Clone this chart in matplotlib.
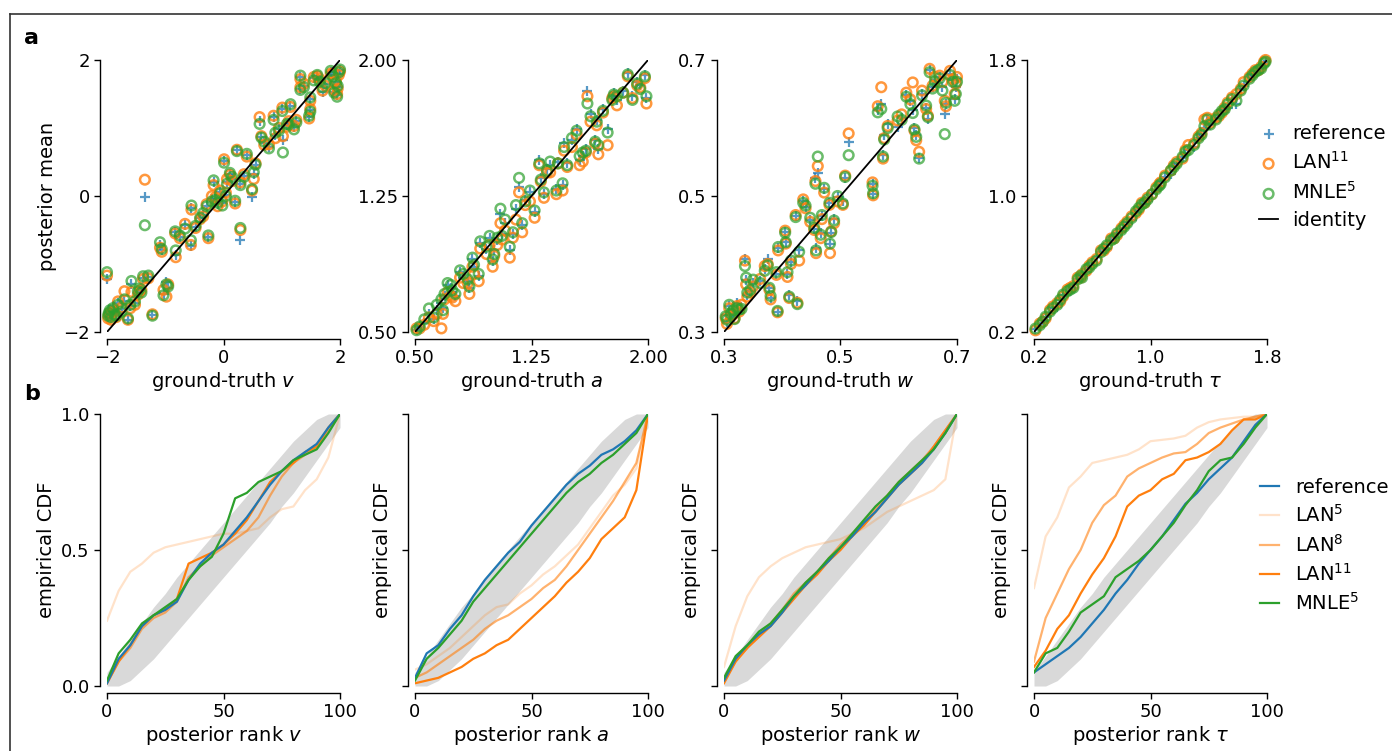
import matplotlib
matplotlib.use('Agg')
import matplotlib.pyplot as plt
from matplotlib.lines import Line2D

# ---------- posterior means vs ground truth (panel a) ----------
v_truth = [-2.00, -1.98, -1.95, -1.90, -1.81, -1.75, -1.70, -1.64, -1.58, -1.52, -1.41, -1.38, -1.35,
           -1.29, -1.22, -1.09, -1.06, -1.03, -0.98, -0.95, -0.83, -0.82, -0.66, -0.56, -0.55, -0.40,
           -0.29, -0.26, -0.20, -0.17, -0.14, -0.06, -0.02, 0.01, 0.06, 0.11, 0.20, 0.23, 0.29, 0.29,
           0.40, 0.49, 0.52, 0.62, 0.65, 0.70, 0.86, 0.89, 1.01, 1.02, 1.09, 1.15, 1.21, 1.32, 1.32,
           1.47, 1.49, 1.49, 1.61, 1.70, 1.84, 1.90, 1.93, 1.95, 1.98,
           -1.97, -1.93, -1.87, -1.84, -1.60, -1.47, -1.44, -0.75, -0.48, -0.35, -0.10, 0.04, 0.15,
           0.35, 0.55, 0.78, 0.95, 1.12, 1.25, 1.38, 1.55, 1.65, 1.75, 1.88, 1.96, 2.00]
v_ref = [-1.22, -1.78, -1.70, -1.62, -1.58, -1.66, -1.55, -1.83, -1.30, -1.58, -1.35, -1.20, -0.01,
         -1.19, -1.75, -0.72, -0.80, -1.44, -1.26, -1.35, -0.53, -0.87, -0.43, -0.73, -0.18, -0.33,
         -0.14, -0.60, -0.05, 0.21, -0.04, 0.06, -0.10, 0.51, 0.20, 0.33, -0.09, 0.67, -0.64, 0.18,
         0.60, -0.01, 0.33, 1.10, 0.87, 0.78, 1.16, 0.89, 1.28, 0.82, 1.04, 1.33, 1.01, 1.75, 1.58,
         1.16, 1.26, 1.43, 1.77, 1.53, 1.82, 1.53, 1.68, 1.48, 1.80,
         -1.74, -1.80, -1.72, -1.77, -1.62, -1.42, -1.38, -0.60, -0.45, -0.28, -0.12, 0.02, 0.25,
         0.30, 0.45, 0.72, 0.98, 1.08, 1.10, 1.62, 1.73, 1.70, 1.65, 1.78, 1.60, 1.85]
v_lan = [-1.17, -1.80, -1.72, -1.70, -1.55, -1.64, -1.40, -1.82, -1.41, -1.60, -1.38, -1.22, 0.24,
         -1.21, -1.74, -0.76, -0.82, -1.38, -1.48, -1.30, -0.55, -0.90, -0.41, -0.72, -0.20, -0.34,
         -0.12, -0.62, 0.00, 0.16, -0.02, 0.08, -0.08, 0.54, 0.25, 0.31, -0.11, 0.68, -0.50, 0.20,
         0.58, 0.08, 0.25, 1.16, 0.88, 0.75, 1.18, 0.85, 1.30, 0.88, 1.02, 1.31, 1.03, 1.72, 1.60,
         1.14, 1.28, 1.40, 1.76, 1.55, 1.80, 1.55, 1.70, 1.50, 1.78,
         -1.75, -1.82, -1.70, -1.78, -1.65, -1.45, -1.40, -0.62, -0.47, -0.30, -0.15, 0.05, 0.22,
         0.32, 0.48, 0.76, 1.00, 1.10, 1.12, 1.65, 1.75, 1.72, 1.62, 1.80, 1.58, 1.83]
v_mnle = [-1.12, -1.76, -1.68, -1.65, -1.60, -1.70, -1.52, -1.80, -1.25, -1.55, -1.42, -1.18, -0.43,
          -1.17, -1.76, -0.68, -0.78, -1.46, -1.30, -1.33, -0.52, -0.80, -0.48, -0.65, -0.14, -0.32,
          -0.15, -0.58, -0.08, 0.23, -0.06, 0.04, -0.14, 0.49, 0.18, 0.34, -0.07, 0.66, -0.47, 0.16,
          0.62, 0.10, 0.35, 1.06, 0.86, 0.80, 1.12, 0.93, 1.25, 0.64, 1.06, 1.35, 0.98, 1.77, 1.56,
          1.18, 1.24, 1.45, 1.78, 1.60, 1.84, 1.52, 1.66, 1.46, 1.82,
          -1.72, -1.78, -1.75, -1.76, -1.60, -1.40, -1.36, -0.58, -0.44, -0.25, -0.10, 0.00, 0.28,
          0.28, 0.46, 0.70, 0.96, 1.05, 1.08, 1.60, 1.70, 1.68, 1.66, 1.76, 1.62, 1.86]

a_truth = [0.53, 0.59, 0.62, 0.67, 0.68, 0.69, 0.71, 0.74, 0.76, 0.79, 0.84, 0.85, 0.88, 0.91, 0.92,
           0.96, 1.00, 1.01, 1.03, 1.05, 1.06, 1.11, 1.13, 1.17, 1.19, 1.21, 1.27, 1.30, 1.31, 1.33,
           1.35, 1.41, 1.42, 1.45, 1.46, 1.48, 1.54, 1.56, 1.58, 1.60, 1.61, 1.66, 1.67, 1.68, 1.71,
           1.74, 1.77, 1.80, 1.84, 1.87, 1.90, 1.95, 1.98, 1.99,
           0.51, 0.56, 0.64, 0.73, 0.81, 0.87, 0.98, 1.08, 1.15, 1.24, 1.37, 1.51, 1.63, 1.78, 1.93]
a_ref = [0.53, 0.60, 0.57, 0.66, 0.63, 0.70, 0.76, 0.72, 0.70, 0.83, 0.78, 0.74, 0.86, 0.81, 0.99,
         0.96, 0.89, 0.95, 1.01, 1.15, 1.04, 0.95, 1.04, 1.30, 1.09, 1.23, 1.16, 1.45, 1.35, 1.26,
         1.40, 1.29, 1.44, 1.31, 1.54, 1.43, 1.62, 1.45, 1.47, 1.51, 1.83, 1.56, 1.67, 1.51, 1.73,
         1.62, 1.80, 1.78, 1.83, 1.93, 1.80, 1.86, 1.92, 1.79,
         0.51, 0.55, 0.62, 0.74, 0.80, 0.90, 1.02, 1.10, 1.18, 1.27, 1.42, 1.56, 1.70, 1.82, 1.88]
a_lan = [0.52, 0.58, 0.56, 0.52, 0.60, 0.68, 0.72, 0.69, 0.67, 0.80, 0.77, 0.71, 0.82, 0.78, 0.96,
         0.93, 0.86, 0.92, 0.98, 1.10, 1.01, 0.91, 1.02, 1.27, 1.05, 1.20, 1.13, 1.42, 1.33, 1.24,
         1.38, 1.26, 1.43, 1.28, 1.50, 1.41, 1.59, 1.42, 1.44, 1.49, 1.80, 1.54, 1.64, 1.48, 1.71,
         1.53, 1.79, 1.75, 1.82, 1.91, 1.79, 1.85, 1.90, 1.76,
         0.52, 0.54, 0.60, 0.70, 0.77, 0.86, 0.98, 1.06, 1.12, 1.22, 1.38, 1.52, 1.66, 1.80, 1.86]
a_mnle = [0.53, 0.63, 0.58, 0.68, 0.62, 0.71, 0.77, 0.73, 0.71, 0.84, 0.79, 0.75, 0.87, 0.82, 1.00,
          0.97, 0.90, 0.93, 1.02, 1.18, 1.03, 0.97, 1.05, 1.35, 1.10, 1.22, 1.17, 1.43, 1.34, 1.27,
          1.39, 1.28, 1.43, 1.32, 1.52, 1.42, 1.61, 1.47, 1.49, 1.50, 1.76, 1.55, 1.66, 1.53, 1.72,
          1.60, 1.78, 1.80, 1.82, 1.92, 1.78, 1.84, 1.91, 1.80,
          0.51, 0.57, 0.65, 0.76, 0.82, 0.91, 1.03, 1.12, 1.20, 1.28, 1.44, 1.57, 1.69, 1.81, 1.87]

w_truth = [0.303, 0.309, 0.316, 0.322, 0.330, 0.336, 0.338, 0.340, 0.350, 0.370, 0.375, 0.378, 0.380,
           0.390, 0.392, 0.393, 0.405, 0.406, 0.409, 0.412, 0.415, 0.423, 0.426, 0.429, 0.436, 0.440,
           0.455, 0.457, 0.458, 0.461, 0.466, 0.472, 0.481, 0.482, 0.484, 0.489, 0.504, 0.508, 0.514,
           0.555, 0.556, 0.564, 0.570, 0.573, 0.575, 0.581, 0.598, 0.613, 0.620, 0.624, 0.627, 0.630,
           0.635, 0.647, 0.650, 0.653, 0.658, 0.670, 0.679, 0.681, 0.693, 0.696, 0.698,
           0.305, 0.312, 0.318, 0.326, 0.345, 0.362, 0.448, 0.468, 0.495, 0.605, 0.640, 0.662, 0.675,
           0.688, 0.700]
w_ref = [0.325, 0.338, 0.330, 0.342, 0.335, 0.408, 0.377, 0.355, 0.372, 0.392, 0.408, 0.364, 0.350,
         0.386, 0.330, 0.423, 0.447, 0.433, 0.386, 0.354, 0.403, 0.470, 0.346, 0.420, 0.492, 0.484,
         0.452, 0.526, 0.423, 0.534, 0.446, 0.511, 0.489, 0.430, 0.445, 0.466, 0.493, 0.526, 0.580,
         0.518, 0.503, 0.626, 0.636, 0.560, 0.589, 0.606, 0.602, 0.648, 0.640, 0.626, 0.600, 0.590,
         0.556, 0.630, 0.613, 0.685, 0.660, 0.675, 0.621, 0.635, 0.670, 0.643, 0.660,
         0.315, 0.325, 0.322, 0.328, 0.360, 0.375, 0.465, 0.470, 0.498, 0.615, 0.650, 0.670, 0.660,
         0.680, 0.672]
w_lan = [0.320, 0.335, 0.326, 0.338, 0.340, 0.405, 0.370, 0.352, 0.367, 0.397, 0.400, 0.362, 0.348,
         0.384, 0.329, 0.420, 0.449, 0.430, 0.381, 0.350, 0.400, 0.472, 0.343, 0.405, 0.495, 0.482,
         0.450, 0.522, 0.416, 0.544, 0.438, 0.505, 0.487, 0.416, 0.448, 0.460, 0.487, 0.530, 0.592,
         0.520, 0.501, 0.632, 0.660, 0.555, 0.585, 0.603, 0.611, 0.652, 0.642, 0.667, 0.596, 0.582,
         0.565, 0.628, 0.618, 0.687, 0.662, 0.677, 0.640, 0.632, 0.672, 0.650, 0.665,
         0.312, 0.323, 0.320, 0.330, 0.358, 0.378, 0.462, 0.466, 0.492, 0.620, 0.655, 0.675, 0.668,
         0.684, 0.675]
w_mnle = [0.323, 0.340, 0.332, 0.335, 0.334, 0.397, 0.380, 0.358, 0.377, 0.390, 0.398, 0.365, 0.353,
          0.388, 0.331, 0.425, 0.446, 0.432, 0.388, 0.352, 0.405, 0.469, 0.341, 0.418, 0.490, 0.486,
          0.453, 0.518, 0.420, 0.558, 0.443, 0.512, 0.490, 0.430, 0.447, 0.464, 0.489, 0.528, 0.560,
          0.515, 0.504, 0.623, 0.628, 0.558, 0.583, 0.600, 0.617, 0.646, 0.635, 0.622, 0.598, 0.587,
          0.555, 0.633, 0.616, 0.682, 0.658, 0.673, 0.591, 0.637, 0.668, 0.640, 0.650,
          0.318, 0.327, 0.319, 0.333, 0.362, 0.372, 0.468, 0.472, 0.500, 0.612, 0.648, 0.668, 0.655,
          0.678, 0.668]

t_truth = [0.21, 0.24, 0.28, 0.33, 0.36, 0.40, 0.43, 0.47, 0.50, 0.53, 0.56, 0.60, 0.63, 0.66, 0.70,
           0.73, 0.77, 0.80, 0.84, 0.87, 0.90, 0.94, 0.98, 1.01, 1.04, 1.07, 1.10, 1.14, 1.18, 1.22,
           1.26, 1.30, 1.33, 1.37, 1.41, 1.45, 1.49, 1.53, 1.56, 1.59, 1.64, 1.68, 1.72, 1.76, 1.79,
           0.26, 0.31, 0.38, 0.45, 0.52, 0.58, 0.68, 0.75, 0.82, 0.92, 0.96, 1.06, 1.16, 1.24, 1.35,
           1.39, 1.47, 1.51, 1.62, 1.70, 1.74, 1.78]
t_ref = [0.22, 0.23, 0.29, 0.34, 0.35, 0.42, 0.43, 0.46, 0.51, 0.53, 0.57, 0.59, 0.64, 0.67, 0.69,
         0.74, 0.78, 0.79, 0.85, 0.86, 0.91, 0.95, 0.97, 1.02, 1.03, 1.08, 1.11, 1.13, 1.19, 1.23,
         1.27, 1.29, 1.34, 1.40, 1.42, 1.46, 1.50, 1.52, 1.57, 1.54, 1.65, 1.70, 1.73, 1.75, 1.79,
         0.27, 0.31, 0.39, 0.44, 0.53, 0.58, 0.69, 0.76, 0.81, 0.93, 0.97, 1.06, 1.17, 1.25, 1.36,
         1.44, 1.48, 1.52, 1.63, 1.71, 1.75, 1.77]
t_lan = [0.21, 0.25, 0.28, 0.35, 0.37, 0.41, 0.45, 0.47, 0.52, 0.54, 0.56, 0.61, 0.63, 0.68, 0.70,
         0.75, 0.77, 0.81, 0.85, 0.88, 0.90, 0.96, 0.99, 1.01, 1.05, 1.08, 1.12, 1.15, 1.20, 1.22,
         1.30, 1.31, 1.35, 1.45, 1.43, 1.46, 1.49, 1.55, 1.58, 1.60, 1.67, 1.70, 1.74, 1.76, 1.80,
         0.26, 0.33, 0.38, 0.46, 0.52, 0.59, 0.68, 0.75, 0.83, 0.92, 0.96, 1.07, 1.18, 1.27, 1.37,
         1.46, 1.47, 1.52, 1.63, 1.72, 1.74, 1.79]
t_mnle = [0.22, 0.24, 0.29, 0.34, 0.36, 0.42, 0.44, 0.46, 0.51, 0.52, 0.57, 0.60, 0.62, 0.67, 0.71,
          0.74, 0.78, 0.80, 0.84, 0.87, 0.91, 0.95, 0.98, 1.01, 1.04, 1.07, 1.11, 1.15, 1.19, 1.23,
          1.27, 1.30, 1.34, 1.41, 1.42, 1.45, 1.50, 1.54, 1.57, 1.56, 1.65, 1.69, 1.73, 1.75, 1.79,
          0.26, 0.32, 0.39, 0.45, 0.53, 0.58, 0.69, 0.75, 0.82, 0.93, 0.96, 1.06, 1.17, 1.26, 1.36,
          1.45, 1.48, 1.51, 1.62, 1.71, 1.74, 1.78]

# ---------- SBC rank ECDFs (panel b), sampled every 5 ranks ----------
ranks = [0, 5, 10, 15, 20, 25, 30, 35, 40, 45, 50, 55, 60, 65, 70, 75, 80, 85, 90, 95, 100]
band_lo = [0.00, 0.00, 0.02, 0.06, 0.10, 0.15, 0.20, 0.25, 0.30, 0.35, 0.40, 0.45, 0.50, 0.55, 0.60,
           0.66, 0.71, 0.77, 0.83, 0.89, 0.95]
band_hi = [0.05, 0.11, 0.17, 0.23, 0.29, 0.34, 0.40, 0.45, 0.50, 0.55, 0.60, 0.65, 0.70, 0.75, 0.80,
           0.85, 0.90, 0.94, 0.98, 1.00, 1.00]

ecdf_v = {
    'ref':   [0.01, 0.10, 0.15, 0.22, 0.26, 0.28, 0.31, 0.39, 0.45, 0.49, 0.52, 0.57, 0.62, 0.68, 0.74, 0.79, 0.83, 0.86, 0.89, 0.95, 1.00],
    'lan5':  [0.24, 0.35, 0.42, 0.45, 0.49, 0.51, 0.52, 0.53, 0.54, 0.55, 0.56, 0.56, 0.57, 0.58, 0.62, 0.65, 0.66, 0.72, 0.76, 0.84, 1.00],
    'lan8':  [0.01, 0.09, 0.14, 0.21, 0.25, 0.27, 0.31, 0.40, 0.44, 0.48, 0.51, 0.54, 0.57, 0.62, 0.70, 0.77, 0.82, 0.85, 0.88, 0.94, 1.00],
    'lan11': [0.01, 0.09, 0.15, 0.22, 0.26, 0.28, 0.32, 0.45, 0.47, 0.49, 0.52, 0.56, 0.61, 0.68, 0.75, 0.79, 0.82, 0.86, 0.88, 0.95, 1.00],
    'mnle':  [0.02, 0.12, 0.17, 0.23, 0.26, 0.29, 0.32, 0.39, 0.44, 0.475, 0.56, 0.69, 0.71, 0.75, 0.77, 0.79, 0.83, 0.85, 0.87, 0.93, 1.00],
}
ecdf_a = {
    'ref':   [0.03, 0.12, 0.15, 0.21, 0.26, 0.33, 0.39, 0.44, 0.49, 0.53, 0.59, 0.64, 0.69, 0.74, 0.78, 0.81, 0.85, 0.87, 0.90, 0.94, 1.00],
    'lan5':  [0.06, 0.08, 0.11, 0.14, 0.18, 0.22, 0.26, 0.29, 0.30, 0.34, 0.37, 0.41, 0.44, 0.48, 0.52, 0.58, 0.64, 0.70, 0.74, 0.80, 1.00],
    'lan8':  [0.03, 0.05, 0.08, 0.11, 0.14, 0.17, 0.21, 0.24, 0.26, 0.29, 0.32, 0.36, 0.39, 0.44, 0.50, 0.56, 0.62, 0.68, 0.75, 0.82, 1.00],
    'lan11': [0.01, 0.02, 0.03, 0.05, 0.07, 0.10, 0.12, 0.15, 0.17, 0.21, 0.25, 0.29, 0.33, 0.38, 0.42, 0.47, 0.54, 0.58, 0.62, 0.72, 1.00],
    'mnle':  [0.02, 0.10, 0.14, 0.19, 0.24, 0.31, 0.36, 0.41, 0.46, 0.51, 0.56, 0.61, 0.66, 0.71, 0.75, 0.78, 0.82, 0.85, 0.89, 0.93, 1.00],
}
ecdf_w = {
    'ref':   [0.02, 0.10, 0.15, 0.19, 0.22, 0.27, 0.33, 0.37, 0.42, 0.46, 0.51, 0.55, 0.60, 0.64, 0.69, 0.74, 0.78, 0.82, 0.87, 0.93, 1.00],
    'lan5':  [0.07, 0.22, 0.33, 0.40, 0.44, 0.47, 0.49, 0.51, 0.52, 0.53, 0.54, 0.56, 0.58, 0.61, 0.64, 0.66, 0.68, 0.70, 0.72, 0.76, 1.00],
    'lan8':  [0.02, 0.09, 0.14, 0.19, 0.23, 0.28, 0.34, 0.38, 0.42, 0.47, 0.52, 0.56, 0.60, 0.65, 0.70, 0.75, 0.79, 0.83, 0.88, 0.94, 1.00],
    'lan11': [0.01, 0.09, 0.14, 0.18, 0.22, 0.27, 0.32, 0.37, 0.41, 0.46, 0.50, 0.55, 0.59, 0.64, 0.69, 0.74, 0.78, 0.82, 0.88, 0.94, 1.00],
    'mnle':  [0.03, 0.11, 0.15, 0.20, 0.23, 0.28, 0.33, 0.38, 0.42, 0.47, 0.51, 0.56, 0.61, 0.66, 0.70, 0.75, 0.79, 0.83, 0.87, 0.93, 1.00],
}
ecdf_t = {
    'ref':   [0.05, 0.08, 0.11, 0.14, 0.18, 0.23, 0.28, 0.34, 0.39, 0.45, 0.50, 0.55, 0.61, 0.67, 0.71, 0.76, 0.80, 0.84, 0.90, 0.96, 1.00],
    'lan5':  [0.36, 0.55, 0.62, 0.73, 0.77, 0.82, 0.83, 0.84, 0.85, 0.87, 0.90, 0.905, 0.91, 0.92, 0.95, 0.97, 0.98, 0.985, 0.99, 0.99, 1.00],
    'lan8':  [0.09, 0.25, 0.34, 0.43, 0.50, 0.60, 0.665, 0.70, 0.77, 0.80, 0.82, 0.84, 0.855, 0.86, 0.89, 0.93, 0.95, 0.965, 0.98, 0.99, 1.00],
    'lan11': [0.07, 0.13, 0.21, 0.26, 0.34, 0.41, 0.47, 0.55, 0.66, 0.70, 0.72, 0.76, 0.78, 0.83, 0.84, 0.86, 0.89, 0.94, 0.98, 0.98, 1.00],
    'mnle':  [0.05, 0.12, 0.14, 0.20, 0.27, 0.30, 0.33, 0.40, 0.43, 0.46, 0.50, 0.55, 0.60, 0.665, 0.72, 0.79, 0.83, 0.84, 0.89, 0.95, 1.00],
}

# ---------- styling ----------
C_REF = '#1f77b4'
C_LAN = '#ff7f0e'
C_MNLE = '#2ca02c'
TICK_FS = 13
LABEL_FS = 14

plt.rcParams['font.family'] = 'DejaVu Sans'
plt.rcParams['mathtext.fontset'] = 'dejavusans'

fig = plt.figure(figsize=(13.92, 7.51), dpi=100)
W, H = 1392.0, 751.0

# outer frame (top and left edges only)
fig.add_artist(Line2D([10 / W, 10 / W], [0, 1 - 14 / H], color='#333333', lw=1.2))
fig.add_artist(Line2D([10 / W, 1], [1 - 14 / H, 1 - 14 / H], color='#333333', lw=1.2))

lefts = [107, 415, 724, 1034]
pw, ph = 233, 272


def style_axes(ax):
    for s in ['top', 'right']:
        ax.spines[s].set_visible(False)
    for s in ['left', 'bottom']:
        ax.spines[s].set_position(('outward', 5))
        ax.spines[s].set_linewidth(1.0)
    ax.tick_params(labelsize=TICK_FS, length=4, width=1.0)


top_panels = [
    (v_truth, v_ref, v_lan, v_mnle, (-2, 2), [-2, 0, 2], ['\u22122', '0', '2'], 'ground-truth $v$'),
    (a_truth, a_ref, a_lan, a_mnle, (0.5, 2.0), [0.5, 1.25, 2.0], ['0.50', '1.25', '2.00'], 'ground-truth $a$'),
    (w_truth, w_ref, w_lan, w_mnle, (0.3, 0.7), [0.3, 0.5, 0.7], ['0.3', '0.5', '0.7'], 'ground-truth $w$'),
    (t_truth, t_ref, t_lan, t_mnle, (0.2, 1.8), [0.2, 1.0, 1.8], ['0.2', '1.0', '1.8'], r'ground-truth $\tau$'),
]

for i, (gt, ref, lan, mnle, lim, ticks, labels, xlabel) in enumerate(top_panels):
    ax = fig.add_axes([lefts[i] / W, 1 - 332 / H, pw / W, ph / H])
    ax.scatter(gt, ref, marker='+', s=45, color=C_REF, alpha=0.75, linewidths=1.6,
               clip_on=False, zorder=3, label='reference')
    ax.scatter(gt, lan, marker='o', s=48, facecolors='none', edgecolors=C_LAN, alpha=0.8,
               linewidths=1.8, clip_on=False, zorder=3, label='LAN$^{11}$')
    ax.scatter(gt, mnle, marker='o', s=48, facecolors='none', edgecolors=C_MNLE, alpha=0.7,
               linewidths=1.8, clip_on=False, zorder=4, label='MNLE$^{5}$')
    ax.plot(lim, lim, color='k', lw=1.3, zorder=5, label='identity')
    ax.set_xlim(lim)
    ax.set_ylim(lim)
    ax.set_xticks(ticks)
    ax.set_xticklabels(labels)
    ax.set_yticks(ticks)
    ax.set_yticklabels(labels)
    ax.set_xlabel(xlabel, fontsize=LABEL_FS, labelpad=2)
    if i == 0:
        ax.set_ylabel('posterior mean', fontsize=LABEL_FS)
    style_axes(ax)
    if i == 3:
        ax.legend(loc='center left', bbox_to_anchor=(0.915, 0.57), frameon=False,
                  fontsize=LABEL_FS, handlelength=1.0, handletextpad=0.7,
                  labelspacing=0.42, borderaxespad=0.2)

bottom_panels = [
    (ecdf_v, 'posterior rank $v$'),
    (ecdf_a, 'posterior rank $a$'),
    (ecdf_w, 'posterior rank $w$'),
    (ecdf_t, r'posterior rank $\tau$'),
]
line_specs = [
    ('ref', 'reference', C_REF, 1.0, 4),
    ('lan5', 'LAN$^{5}$', C_LAN, 0.22, 1),
    ('lan8', 'LAN$^{8}$', C_LAN, 0.6, 2),
    ('lan11', 'LAN$^{11}$', C_LAN, 1.0, 3),
    ('mnle', 'MNLE$^{5}$', C_MNLE, 1.0, 5),
]

for i, (curves, xlabel) in enumerate(bottom_panels):
    ax = fig.add_axes([lefts[i] / W, 1 - 686 / H, pw / W, ph / H])
    ax.fill_between(ranks, band_lo, band_hi, color='#d9d9d9', lw=0, zorder=0)
    for key, label, color, alpha, z in line_specs:
        ax.plot(ranks, curves[key], color=color, alpha=alpha, lw=1.6, zorder=z, label=label)
    ax.set_xlim(0, 100)
    ax.set_ylim(0, 1)
    ax.set_xticks([0, 50, 100])
    ax.set_yticks([0, 0.5, 1.0])
    if i == 0:
        ax.set_yticklabels(['0.0', '0.5', '1.0'])
    else:
        ax.set_yticklabels([])
    ax.set_xlabel(xlabel, fontsize=LABEL_FS, labelpad=2)
    ax.set_ylabel('empirical CDF', fontsize=LABEL_FS)
    style_axes(ax)
    if i == 3:
        ax.legend(loc='center left', bbox_to_anchor=(0.92, 0.515), frameon=False,
                  fontsize=LABEL_FS, handlelength=1.0, handletextpad=0.8,
                  labelspacing=0.38, borderaxespad=0.2)

fig.text(24 / W, 1 - 44 / H, 'a', fontsize=16, fontweight='bold', va='baseline')
fig.text(24 / W, 1 - 400 / H, 'b', fontsize=16, fontweight='bold', va='baseline')

fig.savefig('out.png', dpi=100)
